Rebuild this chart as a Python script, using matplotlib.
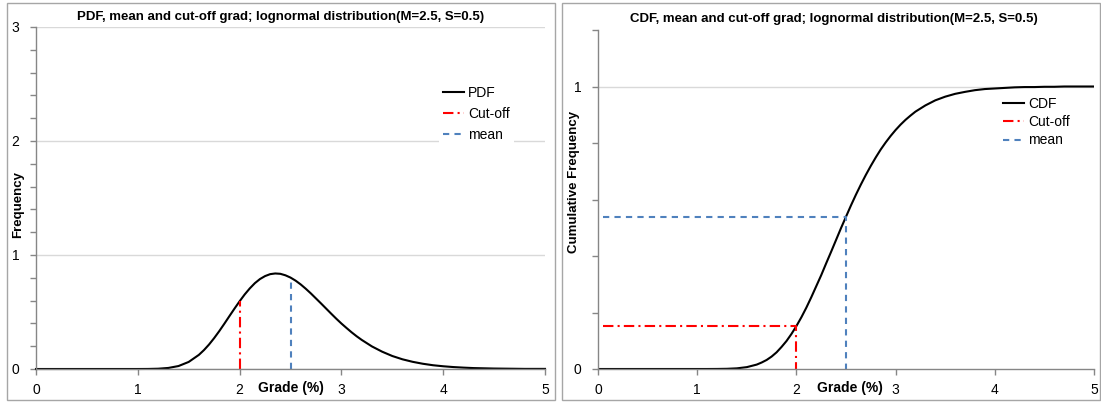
import matplotlib
matplotlib.use("Agg")
import matplotlib.pyplot as plt
from matplotlib.patches import Rectangle

plt.rcParams["font.family"] = ["Liberation Sans", "DejaVu Sans"]

W, H = 1101, 404

# grade (%) sample points (denser around the hump)
grade = [0.0, 0.1, 0.2, 0.3, 0.4, 0.5, 0.6, 0.7, 0.8, 0.9,
         1.0, 1.1, 1.2, 1.3, 1.4, 1.5, 1.6, 1.65, 1.7, 1.75, 1.8, 1.85, 1.9, 1.95,
         2.0, 2.05, 2.1, 2.15, 2.2, 2.25, 2.3, 2.35, 2.4, 2.45, 2.5, 2.55, 2.6, 2.65,
         2.7, 2.75, 2.8, 2.85, 2.9, 2.95, 3.0, 3.05, 3.1, 3.15, 3.2, 3.3, 3.4, 3.5,
         3.6, 3.7, 3.8, 3.9, 4.0, 4.1, 4.2, 4.3, 4.4, 4.5, 4.6, 4.7, 4.8, 4.9, 5.0]
pdf_vals = [0, 0, 0, 0, 0, 0, 0, 0, 0, 0,
            0, 0.0005, 0.0025, 0.0092, 0.026, 0.062, 0.124, 0.166, 0.215, 0.271, 0.332, 0.397, 0.464, 0.530,
            0.594, 0.654, 0.707, 0.753, 0.789, 0.815, 0.832, 0.838, 0.835, 0.822, 0.802, 0.775, 0.742, 0.704,
            0.663, 0.619, 0.575, 0.530, 0.485, 0.441, 0.399, 0.360, 0.322, 0.287, 0.255, 0.198, 0.152, 0.114,
            0.085, 0.063, 0.046, 0.033, 0.024, 0.017, 0.012, 0.008, 0.006, 0.004, 0.003, 0.002, 0.001, 0.001, 0.001]
cdf_vals = [0, 0, 0, 0, 0, 0, 0, 0, 0, 0,
            0, 0, 0.0002, 0.0007, 0.0023, 0.0066, 0.0156, 0.023, 0.032, 0.044, 0.059, 0.078, 0.099, 0.124,
            0.152, 0.183, 0.217, 0.254, 0.293, 0.332, 0.374, 0.415, 0.457, 0.499, 0.539, 0.579, 0.617, 0.653,
            0.687, 0.719, 0.749, 0.777, 0.802, 0.825, 0.846, 0.865, 0.882, 0.897, 0.911, 0.933, 0.951, 0.964,
            0.974, 0.981, 0.987, 0.991, 0.993, 0.995, 0.997, 0.998, 0.998, 0.999, 0.999, 1.0, 1.0, 1.0, 1.0]

cutoff = 2.0
mean = 2.5
pdf_at_cutoff = 0.594
pdf_at_mean = 0.802
cdf_at_cutoff = 0.152
cdf_at_mean = 0.539
line_start = 0.05

# styles
BLUE = "#4f81bd"
GRID = "#d9d9d9"
AXC = "#868686"
RED_LS = (0, (5, 2, 1, 2))
BLUE_LS = (0, (3, 2.5))


def fx(px):
    return px / W


def fy(py):
    return 1 - py / H


def style_axis(ax):
    for s in ["top", "right"]:
        ax.spines[s].set_visible(False)
    for s in ["left", "bottom"]:
        ax.spines[s].set_color(AXC)
        ax.spines[s].set_linewidth(1.0)
    ax.tick_params(axis="both", colors=AXC, labelcolor="black", labelsize=10,
                   length=4, width=1.0)
    ax.tick_params(axis="y", pad=8)
    ax.tick_params(axis="x", pad=6)
    ax.set_xlim(0, 5)
    ax.set_xticks([0, 1, 2, 3, 4, 5])


fig = plt.figure(figsize=(W / 100, H / 100), dpi=100)

# chart area frames
for x0, x1 in [(7, 555), (562, 1100)]:
    fig.patches.append(Rectangle((fx(x0), fy(400)), fx(x1 - x0), (400 - 3) / H,
                                 transform=fig.transFigure, fill=False,
                                 edgecolor="#a6a6a6", linewidth=1.0))

# ===== left: PDF =====
ax1 = fig.add_axes([fx(36), fy(369), fx(545 - 36), (369 - 27) / H])
style_axis(ax1)
ax1.set_ylim(0, 3)
ax1.set_yticks([0, 1, 2, 3])
ax1.set_yticks([0.2 * i for i in range(16) if i % 5], minor=True)
ax1.tick_params(axis="y", which="minor", colors=AXC, length=4, width=1.0)
ax1.grid(True, axis="y", which="major", color=GRID, linewidth=1.0)
ax1.set_axisbelow(True)

ax1.plot(grade, pdf_vals, color="black", lw=1.5, label="PDF", clip_on=False)
ax1.plot([cutoff, cutoff], [0, pdf_at_cutoff], color="red", lw=1.5, ls=RED_LS, label="Cut-off")
ax1.plot([mean, mean], [0, pdf_at_mean], color=BLUE, lw=1.5, ls=BLUE_LS, label="mean")

fig.text(fx(281), fy(17), "PDF, mean and cut-off grad; lognormal distribution(M=2.5, S=0.5)",
         ha="center", va="center", fontsize=9.5, fontweight="bold")
fig.text(fx(291), fy(388), "Grade (%)", ha="center", va="center", fontsize=10, fontweight="bold")
fig.text(fx(18), fy(205), "Frequency", ha="center", va="center", rotation=90,
         fontsize=9.5, fontweight="bold")

leg1 = ax1.legend(loc="upper left", bbox_to_anchor=(fx(432), fy(75)),
                  bbox_transform=fig.transFigure, fontsize=10, handlelength=1.5,
                  handletextpad=0.3, labelspacing=0.5, borderpad=0.3,
                  frameon=True, fancybox=False, framealpha=1)
leg1.get_frame().set_edgecolor("none")
leg1.get_frame().set_facecolor("white")

# ===== right: CDF =====
ax2 = fig.add_axes([fx(598), fy(369), fx(1094 - 598), (369 - 30) / H])
style_axis(ax2)
ax2.set_ylim(0, 1.2)
yt = [0, 0.2, 0.4, 0.6, 0.8, 1.0, 1.2]
ax2.set_yticks(yt)
ax2.set_yticklabels(["0", "", "", "", "", "1", ""])
ax2.grid(False)
ax2.axhline(1.0, color=GRID, lw=1.0, zorder=0)

ax2.plot(grade, cdf_vals, color="black", lw=1.5, label="CDF")
ax2.plot([line_start, cutoff, cutoff], [cdf_at_cutoff, cdf_at_cutoff, 0],
         color="red", lw=1.5, ls=RED_LS, label="Cut-off")
ax2.plot([line_start, mean, mean], [cdf_at_mean, cdf_at_mean, 0],
         color=BLUE, lw=1.5, ls=BLUE_LS, label="mean")

fig.text(fx(834), fy(19), "CDF, mean and cut-off grad; lognormal distribution(M=2.5, S=0.5)",
         ha="center", va="center", fontsize=9.5, fontweight="bold")
fig.text(fx(850), fy(388), "Grade (%)", ha="center", va="center", fontsize=10, fontweight="bold")
fig.text(fx(574), fy(182), "Cumulative Frequency", ha="center", va="center", rotation=90,
         fontsize=9.5, fontweight="bold")

leg2 = ax2.legend(loc="upper left", bbox_to_anchor=(fx(992), fy(86)),
                  bbox_transform=fig.transFigure, fontsize=10, handlelength=1.5,
                  handletextpad=0.3, labelspacing=0.3, borderpad=0.3,
                  frameon=False)

fig.savefig("out.png", dpi=100, facecolor="white")
